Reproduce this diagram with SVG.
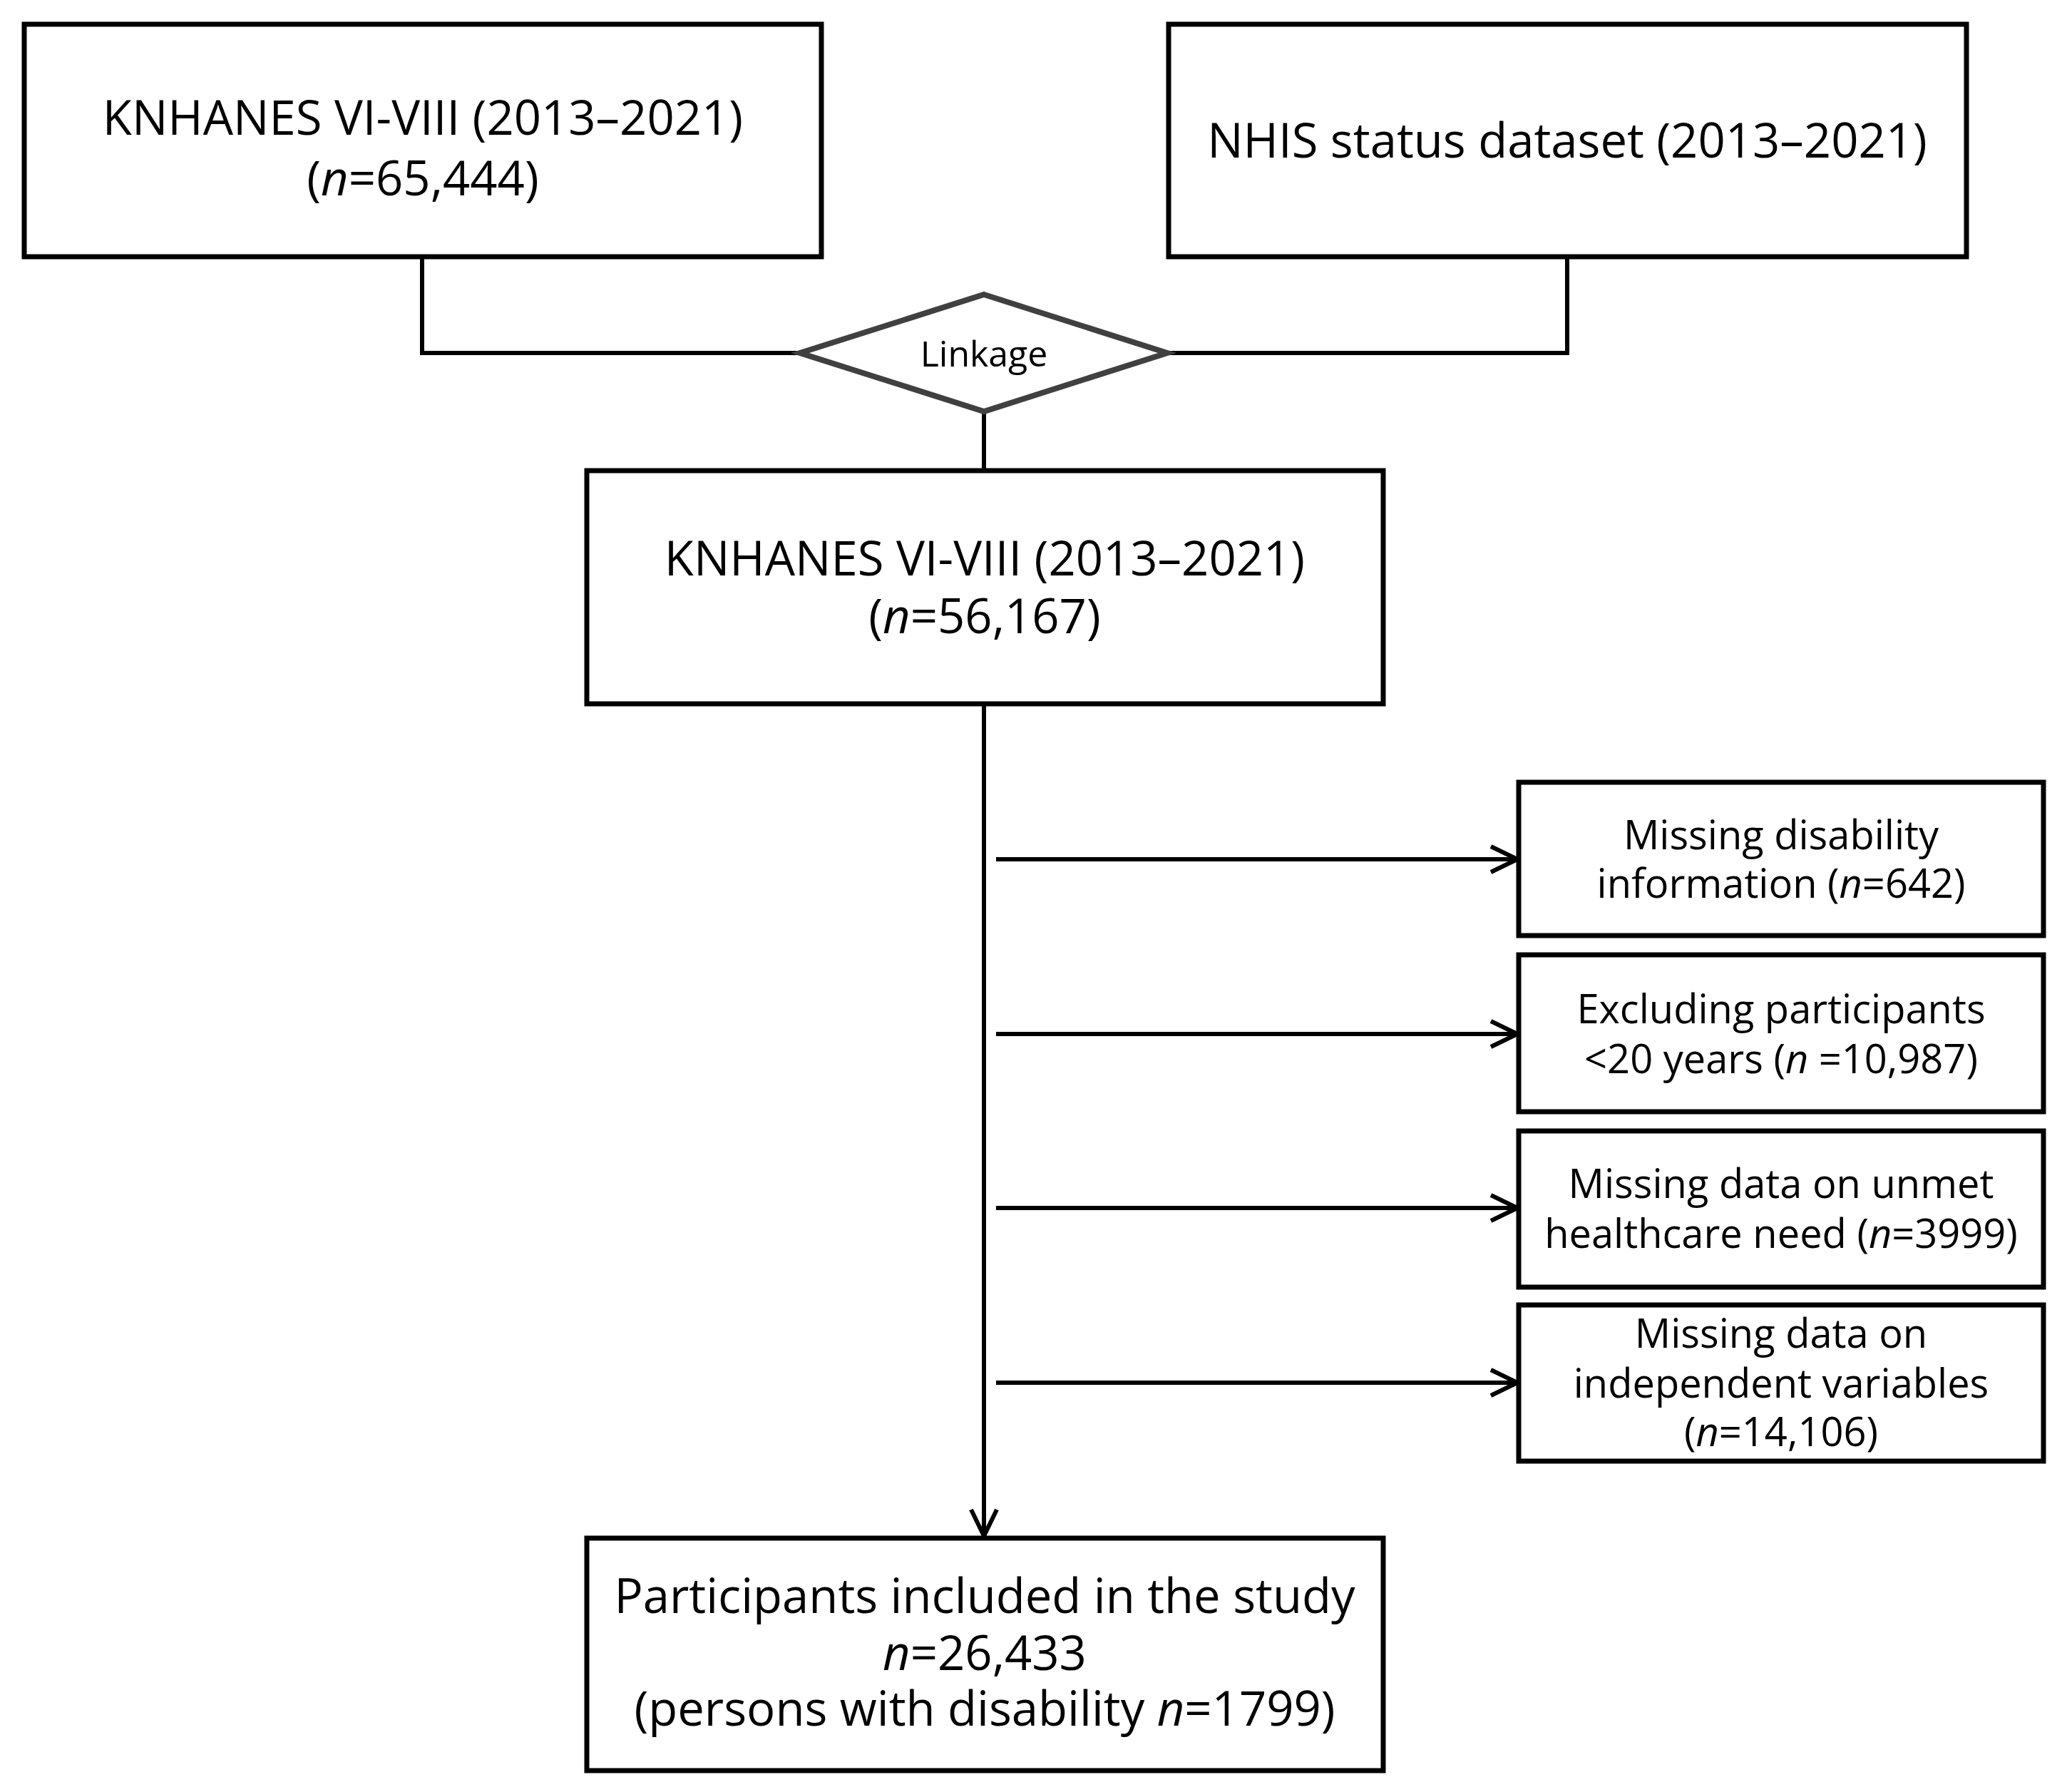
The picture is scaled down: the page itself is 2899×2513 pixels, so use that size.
<svg xmlns="http://www.w3.org/2000/svg" width="2899" height="2513" viewBox="0 0 2899 2513">
  <style>
    .box { fill: #ffffff; stroke: #000000; stroke-width: 7; }
    .dia { fill: #ffffff; stroke: #404040; stroke-width: 8; stroke-linejoin: miter; }
    .conn { fill: none; stroke: #000000; stroke-width: 6; }
    .t { font-family: "Open Sans", "Liberation Sans", sans-serif; fill: #000000; text-anchor: middle; }
    .big { font-size: 67px; }
    .mid { font-size: 56px; }
    .small { font-size: 50px; }
    .it { font-style: italic; }
  </style>
  <defs>
    <marker id="chev" markerUnits="userSpaceOnUse" markerWidth="46" markerHeight="46" viewBox="0 0 46 46" refX="42" refY="23" orient="auto">
      <path d="M5,5 L42,23 L5,41" fill="none" stroke="#000000" stroke-width="6"/>
    </marker>
  </defs>
  <rect width="2899" height="2513" fill="#ffffff"/>

  <g id="connectors">
    <polyline class="conn" points="592,360 592,495 1122,495"/>
    <polyline class="conn" points="2198,360 2198,495 1637,495"/>
    <line class="conn" x1="1380" y1="577" x2="1380" y2="660"/>
    <line class="conn" x1="1380" y1="987" x2="1380" y2="2154" marker-end="url(#chev)"/>
    <line class="conn" x1="1397" y1="1205" x2="2128" y2="1205" marker-end="url(#chev)"/>
    <line class="conn" x1="1397" y1="1450" x2="2128" y2="1450" marker-end="url(#chev)"/>
    <line class="conn" x1="1397" y1="1694" x2="2128" y2="1694" marker-end="url(#chev)"/>
    <line class="conn" x1="1397" y1="1939" x2="2128" y2="1939" marker-end="url(#chev)"/>
  </g>

  <g id="knhanes-initial">
    <rect class="box" x="34" y="34" width="1118" height="326"/>
    <text class="t big" x="593" y="189">KNHANES VI-VIII (2013–2021)</text>
    <text class="t big" x="593" y="274">(<tspan class="it">n</tspan>=65,444)</text>
  </g>

  <g id="nhis">
    <rect class="box" x="1639" y="34" width="1119" height="326"/>
    <text class="t big" x="2198" y="221">NHIS status dataset (2013–2021)</text>
  </g>

  <g id="linkage">
    <polygon class="dia" points="1380,413 1637,495 1380,577 1122,495"/>
    <text class="t small" x="1380" y="514">Linkage</text>
  </g>

  <g id="knhanes-linked">
    <rect class="box" x="823" y="660" width="1117" height="327"/>
    <text class="t big" x="1381" y="807">KNHANES VI-VIII (2013–2021)</text>
    <text class="t big" x="1381" y="888">(<tspan class="it">n</tspan>=56,167)</text>
  </g>

  <g id="excl-disability">
    <rect class="box" x="2130" y="1097" width="736" height="215"/>
    <text class="t mid" x="2498" y="1191">Missing disability</text>
    <text class="t mid" x="2498" y="1259">information (<tspan class="it">n</tspan>=642)</text>
  </g>

  <g id="excl-age">
    <rect class="box" x="2130" y="1339" width="736" height="220"/>
    <text class="t mid" x="2498" y="1435">Excluding participants</text>
    <text class="t mid" x="2498" y="1505">&lt;20 years (<tspan class="it">n</tspan> =10,987)</text>
  </g>

  <g id="excl-unmet">
    <rect class="box" x="2130" y="1586" width="736" height="219"/>
    <text class="t mid" x="2498" y="1680">Missing data on unmet</text>
    <text class="t mid" x="2498" y="1750">healthcare need (<tspan class="it">n</tspan>=3999)</text>
  </g>

  <g id="excl-independent">
    <rect class="box" x="2130" y="1830" width="736" height="219"/>
    <text class="t mid" x="2498" y="1890">Missing data on</text>
    <text class="t mid" x="2498" y="1960">independent variables</text>
    <text class="t mid" x="2498" y="2028">(<tspan class="it">n</tspan>=14,106)</text>
  </g>

  <g id="included">
    <rect class="box" x="823" y="2157" width="1117" height="326"/>
    <text class="t big" x="1381" y="2262">Participants included in the study</text>
    <text class="t big" x="1381" y="2342"><tspan class="it">n</tspan>=26,433</text>
    <text class="t big" x="1381" y="2420">(persons with disability <tspan class="it">n</tspan>=1799)</text>
  </g>
</svg>
